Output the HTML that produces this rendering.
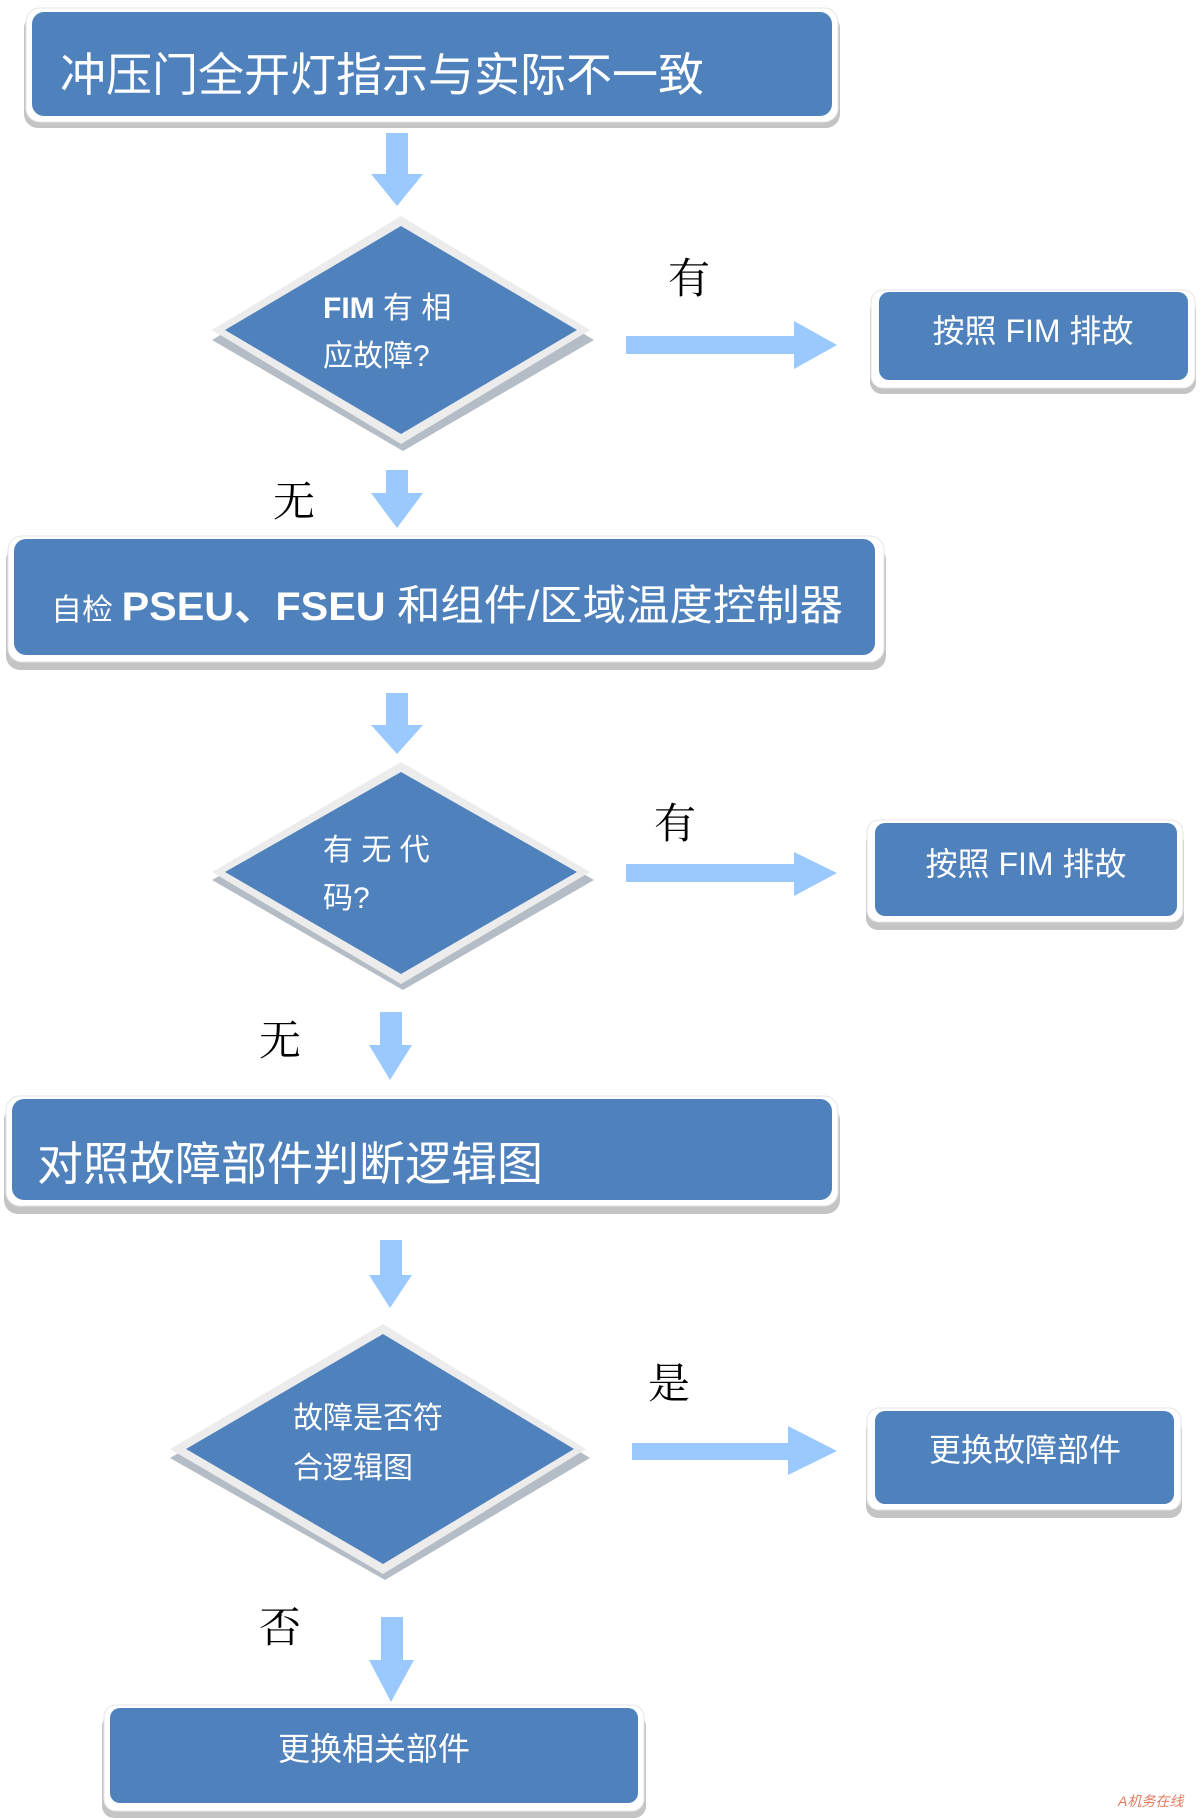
<!DOCTYPE html>
<html><head><meta charset="utf-8"><style>
html,body{margin:0;padding:0;background:#fff;}
svg{display:block;}
.t{font-family:"Liberation Sans","Noto Sans CJK SC",sans-serif;fill:#fff;}
.l{font-family:"Liberation Serif","Noto Serif CJK SC",serif;fill:#000;}
</style></head><body>
<svg width="1200" height="1818" viewBox="0 0 1200 1818" xmlns="http://www.w3.org/2000/svg">
<rect x="24" y="14" width="816" height="114" rx="14" fill="#c4c4c4"/>
<rect x="26" y="8" width="812" height="114" rx="14" fill="#fff" stroke="#e6e6e6"/>
<rect x="32" y="12" width="800" height="104" rx="12" fill="#4f81bd"/>
<text class="t" x="60" y="91" font-size="46">冲压门全开灯指示与实际不一致</text>

<rect x="386" y="133" width="22" height="42" fill="#99c9ff"/>
<polygon points="371,174 423,174 397,206" fill="#99c9ff"/>

<polygon points="403,224 594,340 403,451 212,340" fill="#b4bcc6"/>
<polygon points="401,216 590,330 401,444 212,330" fill="#ececec"/>
<polygon points="401,226 577,330 401,434 225,330" fill="#4f81bd"/>
<text class="t" x="323" y="318" font-size="30"><tspan font-weight="bold">FIM</tspan>  有 相</text>
<text class="t" x="323" y="366" font-size="30">应故障?</text>

<text class="l" x="668" y="293" font-size="42">有</text>
<rect x="626" y="336" width="170" height="18" fill="#99c9ff"/>
<polygon points="794,321 837,345 794,369" fill="#99c9ff"/>

<rect x="870" y="298" width="326" height="96" rx="12" fill="#c4c4c4"/>
<rect x="871" y="290" width="324" height="98" rx="12" fill="#fff" stroke="#e6e6e6"/>
<rect x="879" y="292" width="309" height="88" rx="10" fill="#4f81bd"/>
<text class="t" x="1033" y="342" font-size="32" text-anchor="middle">按照 FIM 排故</text>

<text class="l" x="273" y="516" font-size="42">无</text>
<rect x="386" y="470" width="22" height="24" fill="#99c9ff"/>
<polygon points="371,493 423,493 397,528" fill="#99c9ff"/>

<rect x="6" y="546" width="880" height="124" rx="14" fill="#c4c4c4"/>
<rect x="8" y="536" width="876" height="126" rx="14" fill="#fff" stroke="#e6e6e6"/>
<rect x="14" y="539" width="861" height="116" rx="12" fill="#4f81bd"/>
<text class="t" x="51" y="620" font-size="30" textLength="792" lengthAdjust="spacingAndGlyphs">自检 <tspan font-size="40" font-weight="bold">PSEU、FSEU </tspan><tspan font-size="42">和组件/区域温度控制器</tspan></text>

<rect x="386" y="693" width="22" height="33" fill="#99c9ff"/>
<polygon points="371,725 423,725 397,754" fill="#99c9ff"/>

<polygon points="403,770 594,880 403,990 212,880" fill="#b4bcc6"/>
<polygon points="401,762 590,872 401,984 212,872" fill="#ececec"/>
<polygon points="401,772 577,872 401,974 225,872" fill="#4f81bd"/>
<text class="t" x="323" y="860" font-size="30">有  无  代</text>
<text class="t" x="323" y="908" font-size="30">码?</text>

<text class="l" x="654" y="838" font-size="42">有</text>
<rect x="626" y="864" width="170" height="18" fill="#99c9ff"/>
<polygon points="794,852 837,873 794,896" fill="#99c9ff"/>

<rect x="866" y="830" width="318" height="100" rx="12" fill="#c4c4c4"/>
<rect x="867" y="820" width="316" height="102" rx="12" fill="#fff" stroke="#e6e6e6"/>
<rect x="875" y="823" width="302" height="93" rx="10" fill="#4f81bd"/>
<text class="t" x="1026" y="875" font-size="32" text-anchor="middle">按照 FIM 排故</text>

<text class="l" x="259" y="1055" font-size="42">无</text>
<rect x="380" y="1012" width="22" height="34" fill="#99c9ff"/>
<polygon points="369,1045 412,1045 390,1080" fill="#99c9ff"/>

<rect x="4" y="1106" width="836" height="108" rx="14" fill="#c4c4c4"/>
<rect x="6" y="1096" width="832" height="110" rx="14" fill="#fff" stroke="#e6e6e6"/>
<rect x="12" y="1099" width="820" height="101" rx="12" fill="#4f81bd"/>
<text class="t" x="37" y="1180" font-size="46">对照故障部件判断逻辑图</text>

<rect x="380" y="1240" width="22" height="36" fill="#99c9ff"/>
<polygon points="369,1275 412,1275 390,1308" fill="#99c9ff"/>

<polygon points="385,1334 590,1458 385,1580 170,1458" fill="#b4bcc6"/>
<polygon points="383,1324 586,1449 383,1574 170,1449" fill="#ececec"/>
<polygon points="383,1334 574,1449 383,1564 186,1449" fill="#4f81bd"/>
<text class="t" x="293" y="1428" font-size="30">故障是否符</text>
<text class="t" x="293" y="1478" font-size="30">合逻辑图</text>

<text class="l" x="648" y="1398" font-size="42">是</text>
<rect x="632" y="1443" width="158" height="17" fill="#99c9ff"/>
<polygon points="788,1426 837,1451 788,1475" fill="#99c9ff"/>

<rect x="866" y="1418" width="316" height="100" rx="12" fill="#c4c4c4"/>
<rect x="867" y="1408" width="314" height="102" rx="12" fill="#fff" stroke="#e6e6e6"/>
<rect x="875" y="1411" width="299" height="93" rx="10" fill="#4f81bd"/>
<text class="t" x="1025" y="1461" font-size="32" text-anchor="middle">更换故障部件</text>

<text class="l" x="259" y="1642" font-size="42">否</text>
<rect x="381" y="1617" width="22" height="44" fill="#99c9ff"/>
<polygon points="369,1660 414,1660 391,1702" fill="#99c9ff"/>

<rect x="102" y="1714" width="544" height="104" rx="12" fill="#c4c4c4"/>
<rect x="104" y="1705" width="540" height="106" rx="12" fill="#fff" stroke="#e6e6e6"/>
<rect x="110" y="1708" width="528" height="95" rx="10" fill="#4f81bd"/>
<text class="t" x="374" y="1760" font-size="32" text-anchor="middle">更换相关部件</text>

<text x="1118" y="1806" font-size="14" fill="#e07a5f" font-family="Liberation Sans,Noto Sans CJK SC,sans-serif" font-style="italic">A机务在线</text>
</svg>
</body></html>
